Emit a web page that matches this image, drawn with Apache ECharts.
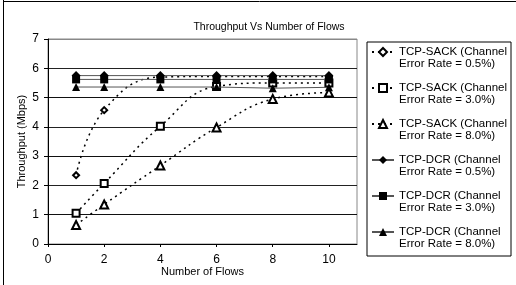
<!DOCTYPE html>
<html>
<head>
<meta charset="utf-8">
<script src="https://cdn.jsdelivr.net/npm/echarts@6/dist/echarts.min.js"></script>
<style>
  html, body { margin: 0; padding: 0; background: #fff; }
  #chart { width: 516px; height: 285px; }
</style>
</head>
<body>
<div id="chart"></div>
<script>
// number of flows
var flows = [1, 2, 4, 6, 8, 10];

// throughput (Mbps)
var sack05 = [2.35, 4.57, 5.70, 5.72, 5.72, 5.72];
var sack30 = [1.05, 2.07, 4.02, 5.38, 5.50, 5.50];
var sack80 = [0.65, 1.35, 2.68, 3.98, 4.95, 5.17];
var dcr05 = [5.75, 5.75, 5.75, 5.75, 5.75, 5.75];
var dcr30 = [5.62, 5.62, 5.62, 5.62, 5.62, 5.62];
var dcr80 = [5.36, 5.36, 5.36, 5.36, 5.32, 5.35];

var names = [
  'TCP-SACK (Channel\nError Rate = 0.5%)',
  'TCP-SACK (Channel\nError Rate = 3.0%)',
  'TCP-SACK (Channel\nError Rate = 8.0%)',
  'TCP-DCR (Channel\nError Rate = 0.5%)',
  'TCP-DCR (Channel\nError Rate = 3.0%)',
  'TCP-DCR (Channel\nError Rate = 8.0%)'
];

function pairs(ys) {
  var out = [];
  for (var i = 0; i < flows.length; i++) out.push([flows[i], ys[i]]);
  return out;
}

function sackSeries(name, ys, symbol, size) {
  return {
    name: name, type: 'line', smooth: 0.45, data: pairs(ys),
    symbol: symbol, symbolSize: size, z: 2,
    lineStyle: { color: '#000', width: 1.5, type: [2, 4] },
    itemStyle: { color: '#000', borderWidth: 1 }
  };
}
function dcrSeries(name, ys, symbol, size) {
  return {
    name: name, type: 'line', data: pairs(ys),
    symbol: symbol, symbolSize: size, z: 3,
    lineStyle: { color: '#555', width: 1 },
    itemStyle: { color: '#000', borderWidth: 0 }
  };
}

var font = 'Liberation Sans';
var chart = echarts.init(document.getElementById('chart'), null, { renderer: 'canvas' });

chart.setOption({
  backgroundColor: '#fff',
  animation: false,
  title: {
    text: 'Throughput Vs Number of Flows',
    left: 264, top: 17, textAlign: 'center',
    textStyle: { fontFamily: font, fontSize: 10.5, fontWeight: 'normal', color: '#000' }
  },
  graphic: [
    { type: 'line', shape: { x1: 3.5, y1: 0, x2: 3.5, y2: 285 }, style: { stroke: '#000', lineWidth: 1 } },
    { type: 'line', shape: { x1: 3, y1: 1.5, x2: 516, y2: 1.5 }, style: { stroke: '#000', lineWidth: 1 } }
  ],
  grid: { left: 48, right: 159, top: 39, bottom: 41, show: true, borderColor: '#888', borderWidth: 1 },
  legend: {
    orient: 'vertical',
    left: 367, top: 42,
    padding: [-8, 4, 6, 4],
    itemGap: 0,
    itemWidth: 22, itemHeight: 10,
    borderColor: '#000', borderWidth: 1,
    data: names,
    // leading blank line puts the icon beside the first text line
    formatter: function (n) { return '\n' + n; },
    textStyle: { fontFamily: font, fontSize: 11.5, lineHeight: 12, color: '#000' }
  },
  xAxis: {
    type: 'value', min: 0, max: 11, interval: 2,
    name: 'Number of Flows', nameLocation: 'middle', nameGap: 22, nameMoveOverlap: false,
    nameTextStyle: { fontFamily: font, fontSize: 11, color: '#000' },
    axisLine: { onZero: false, lineStyle: { color: '#000' } },
    axisTick: { show: true, length: 3, lineStyle: { color: '#000' } },
    axisLabel: { showMaxLabel: false, margin: 10, fontFamily: font, fontSize: 12, color: '#000' },
    splitLine: { show: false }
  },
  yAxis: {
    type: 'value', min: 0, max: 7, interval: 1,
    name: 'Throughput (Mbps)', nameLocation: 'middle', nameGap: 21, nameMoveOverlap: false,
    nameTextStyle: { fontFamily: font, fontSize: 11, color: '#000' },
    axisLine: { show: true, lineStyle: { color: '#000' } },
    axisTick: { show: true, length: 4, lineStyle: { color: '#000' } },
    axisLabel: { margin: 9, fontFamily: font, fontSize: 12, color: '#000' },
    splitLine: { show: true, lineStyle: { color: ['#000', '#111', '#222', '#111', '#222', '#111', '#222', '#888'], width: 1 } }
  },
  series: [
    sackSeries(names[0], sack05, 'emptyDiamond', 6),
    sackSeries(names[1], sack30, 'emptyRect', 7),
    sackSeries(names[2], sack80, 'emptyTriangle', 8),
    dcrSeries(names[3], dcr05, 'diamond', 9),
    dcrSeries(names[4], dcr30, 'rect', 8),
    dcrSeries(names[5], dcr80, 'triangle', 8)
  ]
});
</script>
</body>
</html>
